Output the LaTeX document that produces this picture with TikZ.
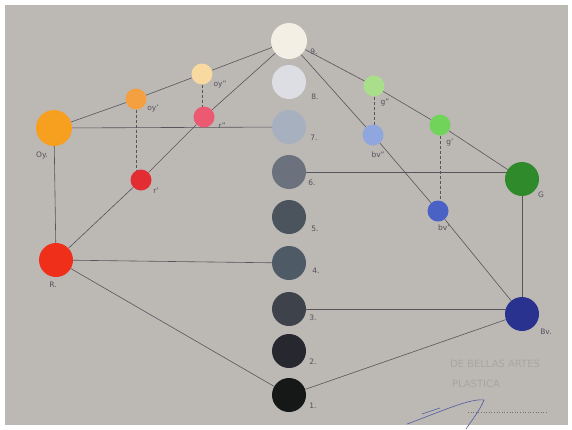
\documentclass[tikz,border=0pt]{standalone}
\usepackage{fontspec}
\setsansfont{DejaVu Sans}
\usetikzlibrary{positioning}
\definecolor{paper}{RGB}{188,184,180}
\definecolor{pencil}{RGB}{88,84,92}
\definecolor{ink}{RGB}{84,80,90}
\definecolor{stampgray}{RGB}{168,165,163}
\definecolor{sigblue}{RGB}{80,90,160}
% grey scale
\definecolor{grayA}{RGB}{22,24,24}
\definecolor{grayB}{RGB}{39,39,47}
\definecolor{grayC}{RGB}{61,66,75}
\definecolor{grayD}{RGB}{78,90,102}
\definecolor{grayE}{RGB}{75,83,93}
\definecolor{grayF}{RGB}{107,113,125}
\definecolor{grayG}{RGB}{167,176,191}
\definecolor{grayH}{RGB}{220,222,228}
\definecolor{grayI}{RGB}{243,239,228}
% hues
\definecolor{orangeY}{RGB}{247,160,32}
\definecolor{orangeY1}{RGB}{245,160,64}
\definecolor{orangeY2}{RGB}{248,217,160}
\definecolor{redR}{RGB}{239,47,26}
\definecolor{redR1}{RGB}{226,46,51}
\definecolor{redR2}{RGB}{236,90,114}
\definecolor{greenG}{RGB}{46,138,42}
\definecolor{greenG1}{RGB}{114,211,90}
\definecolor{greenG2}{RGB}{169,223,138}
\definecolor{blueB}{RGB}{42,50,144}
\definecolor{blueB1}{RGB}{74,98,198}
\definecolor{blueB2}{RGB}{143,166,223}
\pgfdeclarelayer{edges}
\pgfdeclarelayer{paperlayer}
\pgfsetlayers{paperlayer,edges,main}

\begin{document}
\begin{tikzpicture}[
    x=1pt, y=-1pt,
    disc/.style={circle, inner sep=0pt, minimum size=34pt},
    bigdisc/.style={circle, inner sep=0pt, minimum size=36pt},
    smalldisc/.style={circle, inner sep=0pt, minimum size=21pt},
    lbl/.style={font=\sffamily\fontsize{7.5}{8}\selectfont, text=ink, inner sep=0pt},
    edge/.style={draw=pencil, line width=0.6pt},
    guide/.style={draw=pencil, line width=0.6pt, dash pattern=on 3pt off 2pt},
    stamp/.style={font=\sffamily\fontsize{10}{12}\selectfont, text=stampgray, inner sep=0pt}
]
\useasboundingbox (0,0) rectangle (572,429);
\begin{pgfonlayer}{paperlayer}
\fill[white] (0,0) rectangle (572,429);
\fill[paper] (5,5) rectangle (568,425);
\end{pgfonlayer}

% grey axis
\node[bigdisc, fill=grayI] (n9) at (289,41) {};
\node[disc, fill=grayH] (n8) at (289,82) {};
\node[disc, fill=grayG] (n7) at (289,127) {};
\node[disc, fill=grayF] (n6) at (289,172) {};
\node[disc, fill=grayE] (n5) at (289,217) {};
\node[disc, fill=grayD] (n4) at (289,263) {};
\node[disc, fill=grayC] (n3) at (289,309) {};
\node[disc, fill=grayB] (n2) at (289,351) {};
\node[disc, fill=grayA] (n1) at (289,395) {};

% warm side
\node[bigdisc, fill=orangeY] (Oy) at (54,128) {};
\node[smalldisc, fill=orangeY1] (oy1) at (136,99) {};
\node[smalldisc, fill=orangeY2] (oy2) at (202,74) {};
\node[smalldisc, fill=redR2] (r2) at (204,117) {};
\node[smalldisc, fill=redR1] (r1) at (141,180) {};
\node[disc, fill=redR] (R) at (56,260) {};

% cool side
\node[smalldisc, fill=greenG2] (g2) at (374,86) {};
\node[smalldisc, fill=greenG1] (g1) at (440,125) {};
\node[disc, fill=greenG] (G) at (522,179) {};
\node[smalldisc, fill=blueB2] (bv2) at (373,135) {};
\node[smalldisc, fill=blueB1] (bv1) at (438,211) {};
\node[disc, fill=blueB] (Bv) at (522,314) {};

% labels
\node[lbl] (l9) at (314,52) {9.};
\node[lbl] (l8) at (315,97) {8.};
\node[lbl] (l7) at (314,138) {7.};
\node[lbl] (l6) at (312,183) {6.};
\node[lbl] (l5) at (315,229) {5.};
\node[lbl] (l4) at (316,271) {4.};
\node[lbl] (l3) at (313,318) {3.};
\node[lbl] (l2) at (313,362) {2.};
\node[lbl] (l1) at (313,406) {1.};
\node[lbl] (lOy) at (42,155) {Oy.};
\node[lbl] (loy1) at (153,109) {oy'};
\node[lbl] (loy2) at (220,85) {oy''};
\node[lbl] (lr2) at (222,126) {r''};
\node[lbl] (lr1) at (156,191) {r'};
\node[lbl] (lR) at (53,285) {R.};
\node[lbl] (lg2) at (385,103) {g''};
\node[lbl] (lg1) at (450,143) {g'};
\node[lbl] (lbv2) at (378,155) {bv''};
\node[lbl] (lG) at (541,195) {G};
\node[lbl] (lbv1) at (444,228) {bv'};
\node[lbl] (lBv) at (546,332) {Bv.};

% faded stamp
\node[stamp] (st1) at (495,364) {DE BELLAS ARTES};
\node[stamp] (st2) at (476,384) {PLASTICA};
\coordinate (dotA) at (468,412);
\coordinate (dotB) at (548,412);
\draw[stampgray!70!black, line width=1pt, dash pattern=on 1pt off 1.6pt] (dotA) -- (dotB);
\draw[sigblue, line width=0.6pt] (407,424) .. controls (440,412) and (470,398) .. (484,400)
    .. controls (480,410) and (472,420) .. (466,429);
\draw[sigblue, line width=0.6pt] (422,414) -- (440,408);

\begin{pgfonlayer}{edges}
\draw[edge] (n9) -- (oy2) -- (oy1) -- (Oy);
\draw[edge] (n9) -- (r2) -- (r1) -- (R);
\draw[edge] (n9) -- (g2) -- (g1) -- (G);
\draw[edge] (n9) -- (bv2) -- (bv1) -- (Bv);
\draw[edge] (Oy) -- (n7);
\draw[edge] (Oy) -- (R);
\draw[edge] (R) -- (n4);
\draw[edge] (R) -- (n1);
\draw[edge] (n6) -- (n6 -| G);
\draw[edge] (G) -- (Bv);
\draw[edge] (n3) -- (n3 -| Bv);
\draw[edge] (n1) -- (Bv);
\draw[guide] (oy1) -- (oy1 |- r1);
\draw[guide] (oy2) -- (oy2 |- r2);
\draw[guide] (g2) -- (g2 |- bv2);
\draw[guide] (g1) -- (g1 |- bv1);
\end{pgfonlayer}
\end{tikzpicture}
\end{document}
